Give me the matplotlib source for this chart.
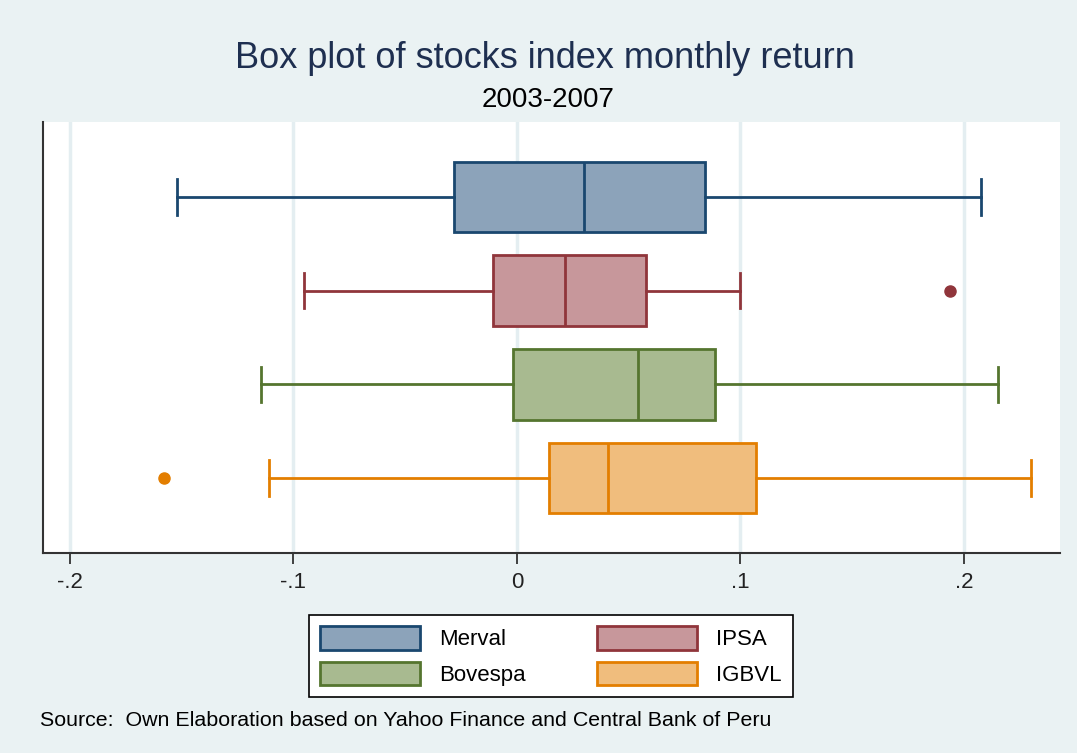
import matplotlib.pyplot as plt
from matplotlib.patches import Patch

plt.rcParams['font.family'] = ['Liberation Sans', 'DejaVu Sans']

# box plot summary values
names = ['Merval', 'IPSA', 'Bovespa', 'IGBVL']
whislo = [-0.152, -0.0953, -0.1145, -0.111]
q1 = [-0.0282, -0.0107, -0.0018, 0.0143]
med = [0.030, 0.0215, 0.0541, 0.0407]
q3 = [0.084, 0.0577, 0.0886, 0.1069]
whishi = [0.2076, 0.0998, 0.2152, 0.230]
fliers = [[], [0.194], [], [-0.158]]

edge_cols = ['#1A476F', '#90353B', '#55752F', '#E37E00']
fill_cols = ['#8CA3BA', '#C7979B', '#A8BA90', '#F0BD7D']
bg = '#EAF2F3'

fig = plt.figure(figsize=(10.77, 7.53), dpi=100, facecolor=bg)
ax = fig.add_axes([43/1077, 1-553/753, (1060-43)/1077, (553-122)/753])
ax.set_facecolor('white')

for i in range(len(names)):
    st = dict(label=names[i], whislo=whislo[i], q1=q1[i], med=med[i],
              q3=q3[i], whishi=whishi[i], fliers=fliers[i])
    ec = edge_cols[i]
    ax.bxp([st], positions=[i + 1], widths=0.755, vert=False, patch_artist=True,
           showfliers=True,
           boxprops=dict(facecolor=fill_cols[i], edgecolor=ec, linewidth=2),
           medianprops=dict(color=ec, linewidth=2),
           whiskerprops=dict(color=ec, linewidth=2),
           capprops=dict(color=ec, linewidth=2),
           flierprops=dict(marker='o', markerfacecolor=ec, markeredgecolor=ec,
                           markersize=8))

ax.set_ylim(4.8, 0.2)
ax.set_xlim(-0.212, 0.243)
ax.set_yticks([])
ax.set_xticks([-0.2, -0.1, 0, 0.1, 0.2])
ax.set_xticklabels(['-.2', '-.1', '0', '.1', '.2'], fontsize=16)
ax.tick_params(axis='x', length=8, width=1.2, pad=6, colors='#222222')
ax.grid(axis='x', color='#E4EEF1', linewidth=2.5)
ax.set_axisbelow(True)
for s in ['top', 'right']:
    ax.spines[s].set_visible(False)
for s in ['left', 'bottom']:
    ax.spines[s].set_color('#333333')
    ax.spines[s].set_linewidth(1.5)

fig.text(0.506, 1-58/753, 'Box plot of stocks index monthly return',
         ha='center', va='center', fontsize=26, color='#1E2F50')
fig.text(0.509, 1-100/753, '2003-2007', ha='center', va='center',
         fontsize=20, color='black')

# legend fills row-wise in the reference: Merval, IPSA / Bovespa, IGBVL
order = [0, 2, 1, 3]
handles = [Patch(facecolor=fill_cols[i], edgecolor=edge_cols[i], linewidth=2, label=names[i])
           for i in order]
leg = fig.legend(handles=handles, loc='center', bbox_to_anchor=(551/1077, 1-656/753),
                 ncol=2, fontsize=16, frameon=True, fancybox=False, framealpha=1,
                 handlelength=4.5, handleheight=1.25, columnspacing=3.2,
                 handletextpad=0.85, borderpad=0.5, labelspacing=0.5)
leg.get_frame().set_edgecolor('black')
leg.get_frame().set_facecolor('white')
leg.get_frame().set_linewidth(1.2)

fig.text(40/1077, 1-720/753,
         'Source:  Own Elaboration based on Yahoo Finance and Central Bank of Peru',
         ha='left', va='center', fontsize=15.4)

plt.savefig('out.png', dpi=100, facecolor=bg)
